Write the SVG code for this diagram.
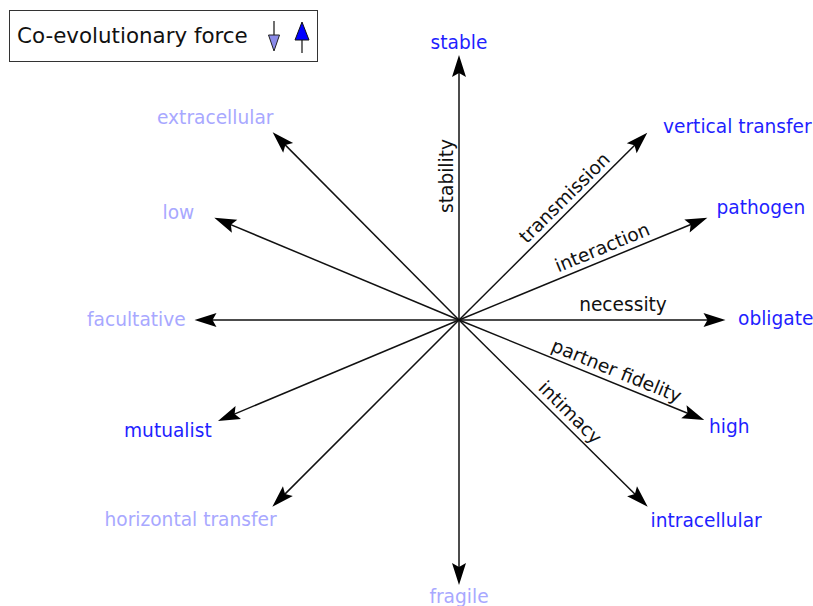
<svg xmlns="http://www.w3.org/2000/svg" width="813" height="606" viewBox="0 0 813 606">
<style>
text{font-family:"DejaVu Sans","Liberation Sans",sans-serif;font-size:18.6px}
.hi{fill:#1f1fff}
.lo{fill:#a8a8ff}
.ax{fill:#111}
.ln{stroke:#111;stroke-width:1.5;fill:none;marker-end:url(#ah)}
</style>
<defs>
<marker id="ah" viewBox="-14 -8 26 16" markerWidth="26" markerHeight="16" refX="0" refY="0" orient="auto" markerUnits="userSpaceOnUse">
<path d="M10,0 L-12,-7 L-8,0 L-12,7 Z" fill="#000"/>
</marker>
</defs>
<rect width="813" height="606" fill="#fff"/>
<g id="legend">
<rect x="9.5" y="10.5" width="308" height="51" fill="#fff" stroke="#333" stroke-width="1"/>
<text x="17" y="43" style="font-size:21.4px" fill="#111">Co-evolutionary force</text>
<line x1="274" y1="21" x2="274" y2="37" stroke="#222" stroke-width="1.3"/>
<path d="M268.5,35 L279.5,35 L274,51 Z" fill="#8a8ae8" stroke="#222" stroke-width="1"/>
<line x1="302" y1="38" x2="302" y2="53" stroke="#222" stroke-width="1.3"/>
<path d="M295,40 L309,40 L302,22 Z" fill="#0000ff" stroke="#111" stroke-width="1"/>
</g>
<g id="connectors">
<line class="ln" x1="459" y1="320" x2="459" y2="65"/>
<line class="ln" x1="459" y1="320" x2="459" y2="575"/>
<line class="ln" x1="459" y1="320" x2="715.5" y2="320"/>
<line class="ln" x1="459" y1="320" x2="204.5" y2="320"/>
<line class="ln" x1="459" y1="320" x2="640.2" y2="139.7"/>
<line class="ln" x1="459" y1="320" x2="698.1" y2="221.5"/>
<line class="ln" x1="459" y1="320" x2="695" y2="416.2"/>
<line class="ln" x1="459" y1="320" x2="640.6" y2="499.7"/>
<line class="ln" x1="459" y1="320" x2="279.7" y2="139.4"/>
<line class="ln" x1="459" y1="320" x2="223.5" y2="221.6"/>
<line class="ln" x1="459" y1="320" x2="227.2" y2="417.1"/>
<line class="ln" x1="459" y1="320" x2="279.4" y2="499.6"/>
</g>
<g id="axis-labels">
<text class="ax" text-anchor="middle" transform="translate(459,176) rotate(-90)" x="0" y="-6">stability</text>
<text class="ax" text-anchor="middle" transform="translate(573.2,206.6) rotate(-44.8)" x="0" y="-6">transmission</text>
<text class="ax" text-anchor="middle" transform="translate(606.9,259) rotate(-22.4)" x="0" y="-6">interaction</text>
<text class="ax" text-anchor="middle" x="623" y="311">necessity</text>
<text class="ax" text-anchor="middle" transform="translate(611.8,382.3) rotate(22.2)" x="0" y="-6">partner fidelity</text>
<text class="ax" text-anchor="middle" transform="translate(561.4,421.3) rotate(44.7)" x="0" y="-6">intimacy</text>
</g>
<g id="n-stable"><text class="hi" text-anchor="middle" x="459" y="49">stable</text></g>
<g id="n-fragile"><text class="lo" text-anchor="middle" x="459" y="603">fragile</text></g>
<g id="n-vertical"><text class="hi" x="663" y="133">vertical transfer</text></g>
<g id="n-pathogen"><text class="hi" x="716.5" y="214">pathogen</text></g>
<g id="n-obligate"><text class="hi" x="738" y="325">obligate</text></g>
<g id="n-high"><text class="hi" x="709" y="433">high</text></g>
<g id="n-intracellular"><text class="hi" x="650.5" y="527">intracellular</text></g>
<g id="n-extracellular"><text class="lo" x="157" y="124">extracellular</text></g>
<g id="n-low"><text class="lo" x="162.5" y="219">low</text></g>
<g id="n-facultative"><text class="lo" x="87" y="326">facultative</text></g>
<g id="n-mutualist"><text class="hi" x="124" y="437">mutualist</text></g>
<g id="n-horizontal"><text class="lo" x="104.5" y="526">horizontal transfer</text></g>
</svg>
